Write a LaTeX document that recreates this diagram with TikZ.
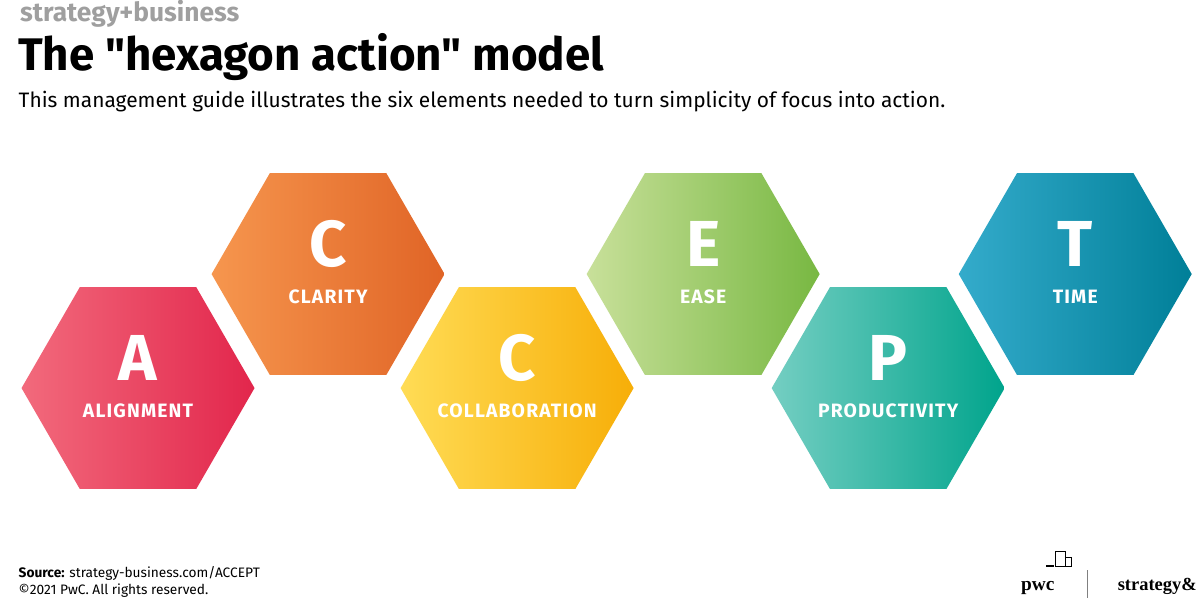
\documentclass[tikz,border=0pt]{standalone}
\usepackage{fontspec}
\setmainfont{Fira Sans}[Ligatures=TeXOff]
\newfontfamily\serifl{Liberation Serif}
\usetikzlibrary{shapes.geometric}

\definecolor{redL}{HTML}{F26A7C}\definecolor{redR}{HTML}{E2264C}
\definecolor{orgL}{HTML}{F6964E}\definecolor{orgR}{HTML}{E06426}
\definecolor{yelL}{HTML}{FFDC55}\definecolor{yelR}{HTML}{F7AE08}
\definecolor{grnL}{HTML}{C8E09A}\definecolor{grnR}{HTML}{78B842}
\definecolor{tealL}{HTML}{74CEC2}\definecolor{tealR}{HTML}{00A48C}
\definecolor{bluL}{HTML}{34ABCB}\definecolor{bluR}{HTML}{007F98}

\tikzset{
  hexa/.style={regular polygon, regular polygon sides=6, minimum size=4.66cm, inner sep=0pt},
  bigletter/.style={white, font=\fontsize{37}{37}\selectfont\bfseries},
  hexlabel/.style={white, font=\fontsize{11}{12}\selectfont\bfseries\addfontfeature{LetterSpace=6}}
}

% name, x, y (px), left colour, right colour, letter, label
\newcommand{\hexbox}[7]{%
  \node [hexa, left color=#4, right color=#5] (#1) at (#2*0.02, -#3*0.02) {};
  \node [bigletter] (#1-l) at ([yshift=0.6cm]#1.center) {#6};
  \node [hexlabel] (#1-t) at ([yshift=-0.46cm]#1.center) {#7};
}

\begin{document}
\begin{tikzpicture}
    \useasboundingbox (0, 0) rectangle (24, -12.02);
    \fill [white] (0, 0) rectangle (24, -12.02);
    % header
    \node [anchor=west, gray!75, font=\fontsize{15}{15}\selectfont\bfseries] (brand) at (0.28, -0.27) {strategy+business};
    \node [anchor=west, font=\fontsize{26}{26}\selectfont\bfseries] (title) at (0.24, -1.14) {The "hexagon action" model};
    \node [anchor=west, font=\fontsize{11.9}{12}\selectfont] (sub) at (0.25, -2.03) {This management guide illustrates the six elements needed to turn simplicity of focus into action.};
    % hexagons
    \hexbox{a}{138}{388}{redL}{redR}{A}{ALIGNMENT}
    \hexbox{c}{328}{274}{orgL}{orgR}{C}{CLARITY}
    \hexbox{cc}{517}{388}{yelL}{yelR}{C}{COLLABORATION}
    \hexbox{e}{703}{274}{grnL}{grnR}{E}{EASE}
    \hexbox{p}{888}{388}{tealL}{tealR}{P}{PRODUCTIVITY}
    \hexbox{t}{1075}{274}{bluL}{bluR}{T}{TIME}
    % footer
    \node [anchor=west, font=\fontsize{7.8}{9}\selectfont] (src) at (0.25, -11.46) {\textbf{Source:} strategy-business.com/ACCEPT};
    \node [anchor=west, font=\fontsize{7.8}{9}\selectfont] (copy) at (0.25, -11.82) {©2021 PwC. All rights reserved.};
    \node [anchor=west, font=\serifl\bfseries\fontsize{11}{12}\selectfont] (pwc) at (20.3, -11.76) {pwc};
    \node [anchor=east, inner sep=0pt, font=\serifl\bfseries\fontsize{10.5}{12}\selectfont] (sand) at (23.94, -11.72) {strategy\&};
    \draw [gray, line width=0.5pt] (21.75, -11.4) -- (21.75, -11.95);
    \draw [line width=0.3pt] (21.1, -11.02) rectangle (21.3, -11.32) (21.3, -11.14) rectangle (21.42, -11.32);
    \draw [line width=0.6pt] (20.92, -11.32) -- (21.08, -11.32);
\end{tikzpicture}
\end{document}
